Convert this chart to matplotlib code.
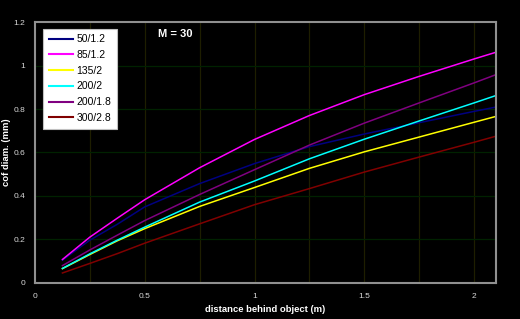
import numpy as np
import matplotlib.pyplot as plt

plt.rcParams['font.family'] = ['Liberation Sans', 'DejaVu Sans']

# distance behind object (m)
distance = [0.125, 0.25, 0.375, 0.5, 0.75, 1.0, 1.25, 1.5, 1.75, 2.0, 2.1]

# circle of confusion diameter (mm) per lens
lens_labels = ["50/1.2", "85/1.2", "135/2", "200/2", "200/1.8", "300/2.8"]
coc_50_12 = [0.105, 0.197, 0.270, 0.350, 0.457, 0.549, 0.627, 0.685, 0.737, 0.789, 0.809]
coc_85_12 = [0.108, 0.211, 0.298, 0.383, 0.530, 0.660, 0.770, 0.866, 0.950, 1.030, 1.061]
coc_135_2 = [0.066, 0.131, 0.194, 0.250, 0.352, 0.439, 0.527, 0.603, 0.671, 0.739, 0.766]
coc_200_2 = [0.067, 0.134, 0.197, 0.257, 0.372, 0.469, 0.571, 0.661, 0.745, 0.828, 0.862]
coc_200_18 = [0.080, 0.152, 0.220, 0.287, 0.407, 0.521, 0.634, 0.735, 0.828, 0.920, 0.958]
coc_300_28 = [0.046, 0.090, 0.135, 0.183, 0.272, 0.360, 0.434, 0.510, 0.579, 0.647, 0.675]

series = [coc_50_12, coc_85_12, coc_135_2, coc_200_2, coc_200_18, coc_300_28]
colours = ['#000080', '#ff00ff', '#ffff00', '#00ffff', '#800080', '#800000']

fig = plt.figure(figsize=(5.2, 3.19), dpi=100, facecolor='black')
ax = fig.add_axes([0.0673, 0.1129, 0.8865, 0.8181], facecolor='black')

for vals, label, col in zip(series, lens_labels, colours):
    ax.plot(distance, vals, color=col, lw=1.1, label=label,
            solid_joinstyle='round')

ax.set_xlim(0, 2.1)
ax.set_ylim(0, 1.2)
ax.set_xticks([0, 0.5, 1, 1.5, 2])
ax.set_xticklabels(['0', '0.5', '1', '1.5', '2'])
ax.set_yticks(np.arange(0, 1.21, 0.2))
ax.set_yticklabels(['0', '0.2', '0.4', '0.6', '0.8', '1', '1.2'])

# excel-like grid: olive verticals every 0.25, dark green horizontals
for gx in np.arange(0.25, 2.1, 0.25):
    ax.axvline(gx, color='#1e1e00', lw=0.9, zorder=0)
for gy in np.arange(0.2, 1.2, 0.2):
    ax.axhline(gy, color='#002200', lw=0.9, zorder=0)

ax.tick_params(which='both', length=0, colors='#d8d8d8', labelsize=6, pad=7)
for sp in ax.spines.values():
    sp.set_color('#909090')
    sp.set_linewidth(1.5)

ax.set_xlabel("distance behind object (m)", color='white', fontsize=6.8,
              fontweight='bold', labelpad=4)
# y label placed by hand, close to the left edge like the original
fig.text(7 / 520, 0.5 + (0.1129 + 0.8181 / 2 - 0.5), "cof diam. (mm)",
         color='white', fontsize=6.8, fontweight='bold', rotation=90,
         ha='center', va='center')

ax.text(0.305, 0.955, "M = 30", transform=ax.transAxes, color='white',
        fontsize=8, fontweight='bold', ha='center', va='center')

leg = ax.legend(loc='upper left', bbox_to_anchor=(0.017, 0.975), fontsize=7.5,
                frameon=True, fancybox=False, framealpha=1, handlelength=2.3,
                handletextpad=0.35, labelspacing=0.55, borderpad=0.55,
                borderaxespad=0)
leg.get_frame().set_facecolor('white')
leg.get_frame().set_edgecolor('#c0c0c0')
leg.get_frame().set_linewidth(0.8)
for line in leg.get_lines():
    line.set_linewidth(1.5)

fig.savefig('out.png', dpi=100, facecolor='black')
